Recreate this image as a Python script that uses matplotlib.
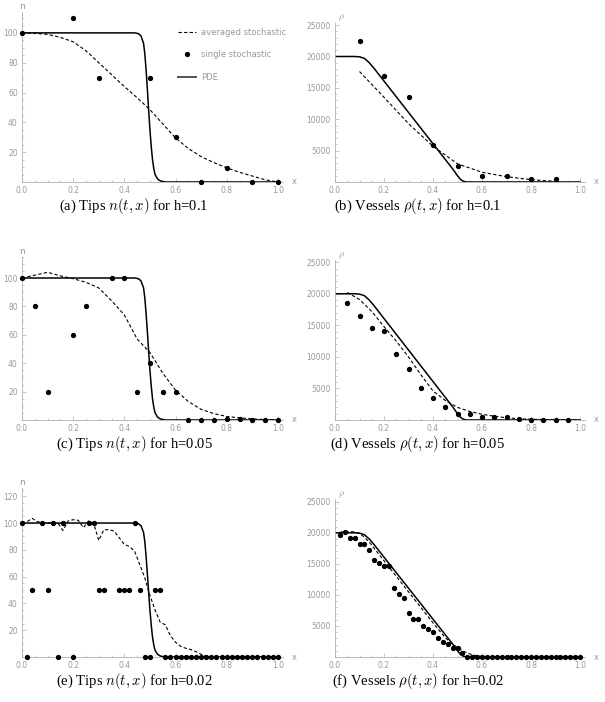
import numpy as np
import matplotlib
matplotlib.use("Agg")
import matplotlib.pyplot as plt
from matplotlib.ticker import MultipleLocator, AutoMinorLocator
from matplotlib.lines import Line2D

nan = np.nan

# --- PDE reference curves ---
pde_n_x = [0.0, 0.44, 0.455, 0.465, 0.475, 0.48, 0.485, 0.49, 0.495, 0.50, 0.505,
           0.51, 0.515, 0.52, 0.53, 0.54, 0.55, 0.56, 1.0]
pde_n = [100, 100, 99.5, 98, 93, 86, 75, 62, 48, 35, 24, 15, 9, 5, 2, 0.8, 0.3, 0, 0]

pde_rho_x = [0.0, 0.08, 0.10, 0.12, 0.14, 0.16, 0.48, 0.50, 0.51, 0.52, 0.53, 0.54, 1.0]
pde_rho = [20000, 20000, 19950, 19700, 19000, 18080, 2100, 1000, 500, 200, 50, 0, 0]

# --- h = 0.1 ---
x_a = [0.0, 0.1, 0.2, 0.3, 0.4, 0.5, 0.6, 0.7, 0.8, 0.9, 1.0]
n_single_a = [100, nan, 110, 70, nan, 70, 30, 0, 9.5, 0, 0]
avg_a_x = [0.0, 0.05, 0.1, 0.15, 0.2, 0.25, 0.3, 0.35, 0.4, 0.45, 0.5,
           0.55, 0.6, 0.65, 0.7, 0.75, 0.8, 0.85, 0.9, 0.95, 1.0]
n_avg_a = [100, 99.7, 99, 97, 94, 88, 80, 72, 64, 56.5, 48.5,
           39, 29.5, 22.5, 17, 13, 9.5, 6.5, 4, 1.5, 0]

x_b = [0.1, 0.2, 0.3, 0.4, 0.5, 0.6, 0.7, 0.8, 0.9]
rho_single_b = [22500, 16900, 13500, 5900, 2500, 1000, 1000, 500, 500]
rho_avg_b = [17600, 13500, 9300, 5700, 2900, 1550, 850, 370, 100]

# --- h = 0.05 ---
x_c = [0.0, 0.05, 0.1, 0.15, 0.2, 0.25, 0.3, 0.35, 0.4, 0.45, 0.5,
       0.55, 0.6, 0.65, 0.7, 0.75, 0.8, 0.85, 0.9, 0.95, 1.0]
n_single_c = [100, 80, 20, nan, 60, 80, nan, 100, 100, 20, 40,
              20, 20, 0, 0, 0, 0.5, 0.5, 0, 0, 0]
n_avg_c = [100, 102, 104, 101.5, 99.5, 97, 93, 84, 74, 57, 47.5,
           33, 21, 13, 7.5, 4.5, 2.5, 1.5, 0.8, 0.3, 0]

x_d = [0.05, 0.1, 0.15, 0.2, 0.25, 0.3, 0.35, 0.4, 0.45, 0.5,
       0.55, 0.6, 0.65, 0.7, 0.75, 0.8, 0.85, 0.9, 0.95]
rho_single_d = [18460, 16550, 14540, 14060, 10500, 8060, 5000, 3500, 2000, 1000,
                1000, 530, 530, 530, 80, 60, 50, 50, 50]
avg_d_x = [0.05, 0.1, 0.15, 0.2, 0.25, 0.3, 0.35, 0.4, 0.45, 0.5,
           0.55, 0.6, 0.65, 0.7, 0.75, 0.8, 0.85, 0.9, 0.95, 1.0]
rho_avg_d = [20200, 19100, 17200, 14800, 12500, 10000, 7200, 4600, 3100, 2000,
             1350, 900, 600, 350, 200, 120, 80, 50, 30, 0]

# --- h = 0.02 ---
x_e = [round(0.02 * i, 2) for i in range(51)]
n_single_e = [100, 0, 50, nan, 100, 50, 100, 0, 100, nan,
              0, nan, nan, 100, 100, 50, 50, nan, nan, 50,
              50, 50, 100, 50, 0, 0, 50, 50] + [0] * 23
n_avg_e = [100, 101, 103.5, 101, 100.5, 100, 100, 100, 94.5, 101.5,
           102.5, 102, 96.5, 101.5, 100, 87, 95, 95, 94, 89,
           84, 82.5, 79, 69, 59, 46, 35, 26, 24, 16,
           11, 8, 6.5, 5.5, 4, 2, 0.5] + [0] * 14

x_f = [round(0.02 * i, 2) for i in range(1, 51)]
rho_single_f = [19640, 20180, 19110, 19110, 18200, 18200, 17230, 15620, 15090, 14700,
                14700, 11060, 10140, 9550, 7040, 6070, 6070, 4990, 4560, 3970,
                3010, 2470, 2090, 1500, 1500, 590] + [0] * 24
avg_f_x = [0.02, 0.04, 0.06, 0.08, 0.10, 0.12, 0.14, 0.16, 0.2, 0.25, 0.3, 0.35,
           0.4, 0.45, 0.48, 0.5, 0.52, 0.54, 0.56, 0.58, 0.6, 0.64, 1.0]
rho_avg_f = [20100, 20200, 20200, 20150, 19900, 19300, 18500, 17500, 15500, 13000,
             10500, 8000, 5500, 3100, 2100, 1500, 1000, 650, 350, 200, 100, 0, 0]

captions = [r"(a) Tips $n(t,x)$ for h=0.1", r"(b) Vessels $\rho(t,x)$ for h=0.1",
            r"(c) Tips $n(t,x)$ for h=0.05", r"(d) Vessels $\rho(t,x)$ for h=0.05",
            r"(e) Tips $n(t,x)$ for h=0.02", r"(f) Vessels $\rho(t,x)$ for h=0.02"]

plt.rcParams['mathtext.fontset'] = 'cm'
AX = '#b0b0b0'
TXT = '#999999'
DASH = (0, (3, 2))

fig = plt.figure(figsize=(6.05, 7.02), dpi=100)


def style(ax, ymax, ystep, yminor, ylab):
    ax.set_xlim(0, 1.02)
    ax.set_ylim(0, ymax)
    for s in ['top', 'right']:
        ax.spines[s].set_visible(False)
    for s in ['left', 'bottom']:
        ax.spines[s].set_color(AX)
        ax.spines[s].set_linewidth(0.6)
    ax.xaxis.set_major_locator(MultipleLocator(0.2))
    ax.xaxis.set_minor_locator(AutoMinorLocator(4))
    ax.yaxis.set_major_locator(MultipleLocator(ystep))
    ax.yaxis.set_minor_locator(AutoMinorLocator(yminor))
    ax.tick_params(which='both', direction='in', color=AX, width=0.5,
                   labelsize=5.5, labelcolor=TXT, pad=3)
    ax.tick_params(which='major', length=2.8)
    ax.tick_params(which='minor', length=1.5)
    ax.set_xticks(np.arange(0, 1.01, 0.2))
    ax.set_xticklabels(["%.1f" % v for v in np.arange(0, 1.01, 0.2)])
    yt = np.arange(ystep, ymax + 1, ystep)
    ax.set_yticks(yt)
    ax.set_yticklabels(["%d" % v for v in yt])
    ax.text(1.035, 0, "x", transform=ax.transAxes, fontsize=6, color=TXT,
            ha='left', va='center')
    if ylab == 'n':
        ax.text(0, 1.005, "n", transform=ax.transAxes, fontsize=6.5, color=TXT,
                ha='center', va='bottom')
    else:
        ax.text(0.012, 0.995, r"$\rho$", transform=ax.transAxes, fontsize=7,
                color=TXT, ha='left', va='bottom')


lx, lw_ = 22 / 605, 261 / 605
rx, rw_ = 335 / 605, 245 * 1.02 / 605

ax_a = fig.add_axes([lx, 1 - 182 / 702, lw_, 170 / 702])
ax_b = fig.add_axes([rx, 1 - 182 / 702, rw_, 159.4 / 702])
ax_c = fig.add_axes([lx, 1 - 420 / 702, lw_, 163.3 / 702])
ax_d = fig.add_axes([rx, 1 - 420 / 702, rw_, 160.3 / 702])
ax_e = fig.add_axes([lx, 1 - 657 / 702, lw_, 168.8 / 702])
ax_f = fig.add_axes([rx, 1 - 657 / 702, rw_, 157.7 / 702])

lkw = dict(color='black', lw=1.1)
dkw = dict(color='black', lw=0.8, ls=DASH)
mkw = dict(color='black', ls='none', marker='o', ms=2.8, clip_on=False, zorder=5)

# tips panels
for ax, xs, single, avg_x, avg, ymax in [
        (ax_a, x_a, n_single_a, avg_a_x, n_avg_a, 114),
        (ax_c, x_c, n_single_c, x_c, n_avg_c, 115),
        (ax_e, x_e, n_single_e, x_e, n_avg_e, 126)]:
    ax.plot(pde_n_x, pde_n, **lkw)
    ax.plot(avg_x, avg, **dkw)
    ax.plot(xs, single, **mkw)
    style(ax, ymax, 20, 4, 'n')

# vessel panels
for ax, xs, single, avg_x, avg in [
        (ax_b, x_b, rho_single_b, x_b, rho_avg_b),
        (ax_d, x_d, rho_single_d, avg_d_x, rho_avg_d),
        (ax_f, x_f, rho_single_f, avg_f_x, rho_avg_f)]:
    ax.plot(pde_rho_x, pde_rho, **lkw)
    ax.plot(avg_x, avg, **dkw)
    ax.plot(xs, single, **mkw)
    style(ax, 25400, 5000, 5, 'rho')

# legend in panel (a)
handles = [Line2D([], [], **dkw),
           Line2D([], [], color='black', ls='none', marker='o', ms=2.8),
           Line2D([], [], color='#555555', lw=1.4)]
leg = ax_a.legend(handles, ["averaged stochastic", "single stochastic", "PDE"],
                  loc='upper left', bbox_to_anchor=(0.58, 0.93), frameon=False,
                  fontsize=6, labelspacing=1.6, handlelength=2.2, handletextpad=0.6,
                  borderpad=0)
for t in leg.get_texts():
    t.set_color(TXT)

# captions
cap_x = [134 / 605, 418 / 605]
cap_y = [206, 444, 681]
for i, c in enumerate(captions):
    fig.text(cap_x[i % 2], 1 - cap_y[i // 2] / 702, c, ha='center', va='center',
             fontsize=10.5, family='Liberation Serif')

fig.savefig("out.png", dpi=100)
